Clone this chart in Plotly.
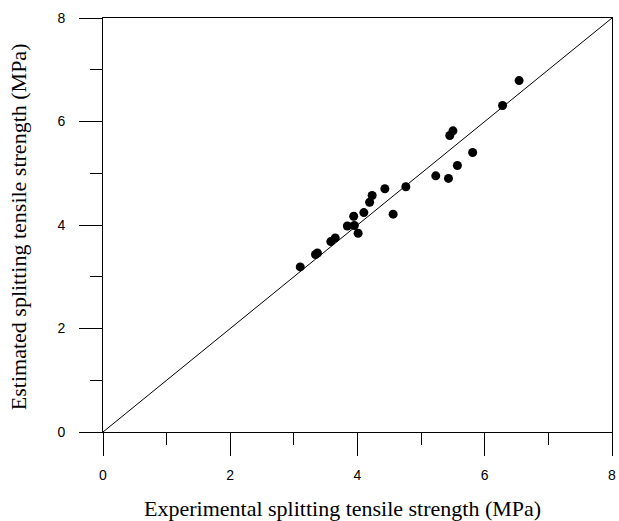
import plotly.graph_objects as go

experimental = [6.54, 6.28, 5.50, 5.45, 5.81, 5.57, 5.23, 5.43, 4.76, 4.43, 4.23, 4.19,
                4.56, 4.10, 3.94, 3.84, 3.95, 4.01, 3.65, 3.58, 3.37, 3.34, 3.10]
estimated = [6.79, 6.31, 5.82, 5.73, 5.40, 5.15, 4.95, 4.90, 4.74, 4.70, 4.57, 4.44,
             4.21, 4.24, 4.17, 3.98, 3.99, 3.84, 3.75, 3.68, 3.46, 3.43, 3.19]
line_x = [0, 8]
line_y = [0, 8]
tick_vals = [0, 2, 4, 6, 8]
tick_text = ["0", "2", "4", "6", "8"]
minor_vals = [1, 3, 5, 7]
x_title = "Experimental splitting tensile strength (MPa)"
y_title = "Estimated splitting tensile strength (MPa)"

fig = go.Figure()
fig.add_trace(go.Scatter(x=line_x, y=line_y, mode="lines",
                         line=dict(color="black", width=1), showlegend=False,
                         hoverinfo="skip", cliponaxis=False))
fig.add_trace(go.Scatter(x=experimental, y=estimated, mode="markers",
                         marker=dict(color="black", size=9, line=dict(width=0)),
                         showlegend=False))

axis_common = dict(
    range=[0, 8], tickmode="array", tickvals=tick_vals, ticktext=tick_text,
    ticks="outside", ticklen=23, tickwidth=1, tickcolor="black",
    showline=True, linecolor="black", linewidth=1, mirror=True,
    showgrid=False, zeroline=False, ticklabeloverflow="allow",
    tickfont=dict(family="Liberation Sans, Arial", size=14, color="black"),
    minor=dict(ticks="outside", ticklen=12, tickwidth=1, tickcolor="black",
               tickvals=minor_vals, showgrid=False),
)

fig.update_xaxes(**axis_common, ticklabelstandoff=7)
fig.update_yaxes(**axis_common, ticklabelstandoff=11)

fig.add_annotation(text=x_title, xref="paper", yref="paper", x=0.4708, y=-0.1836,
                   xanchor="center", yanchor="middle", showarrow=False, borderpad=0,
                   font=dict(family="Liberation Serif, Times New Roman", size=22, color="black"))
fig.add_annotation(text=y_title, xref="paper", yref="paper", x=-0.166, y=0.496,
                   xanchor="center", yanchor="middle", showarrow=False, textangle=-90,
                   borderpad=0,
                   font=dict(family="Liberation Serif, Times New Roman", size=22, color="black"))

fig.update_layout(width=619, height=521, margin=dict(l=103, r=3, t=18, b=89),
                  plot_bgcolor="white", paper_bgcolor="white")
fig.write_html("out.html", config={"displayModeBar": False},
               post_script="document.body.style.margin='0';document.body.style.overflow='hidden';")
